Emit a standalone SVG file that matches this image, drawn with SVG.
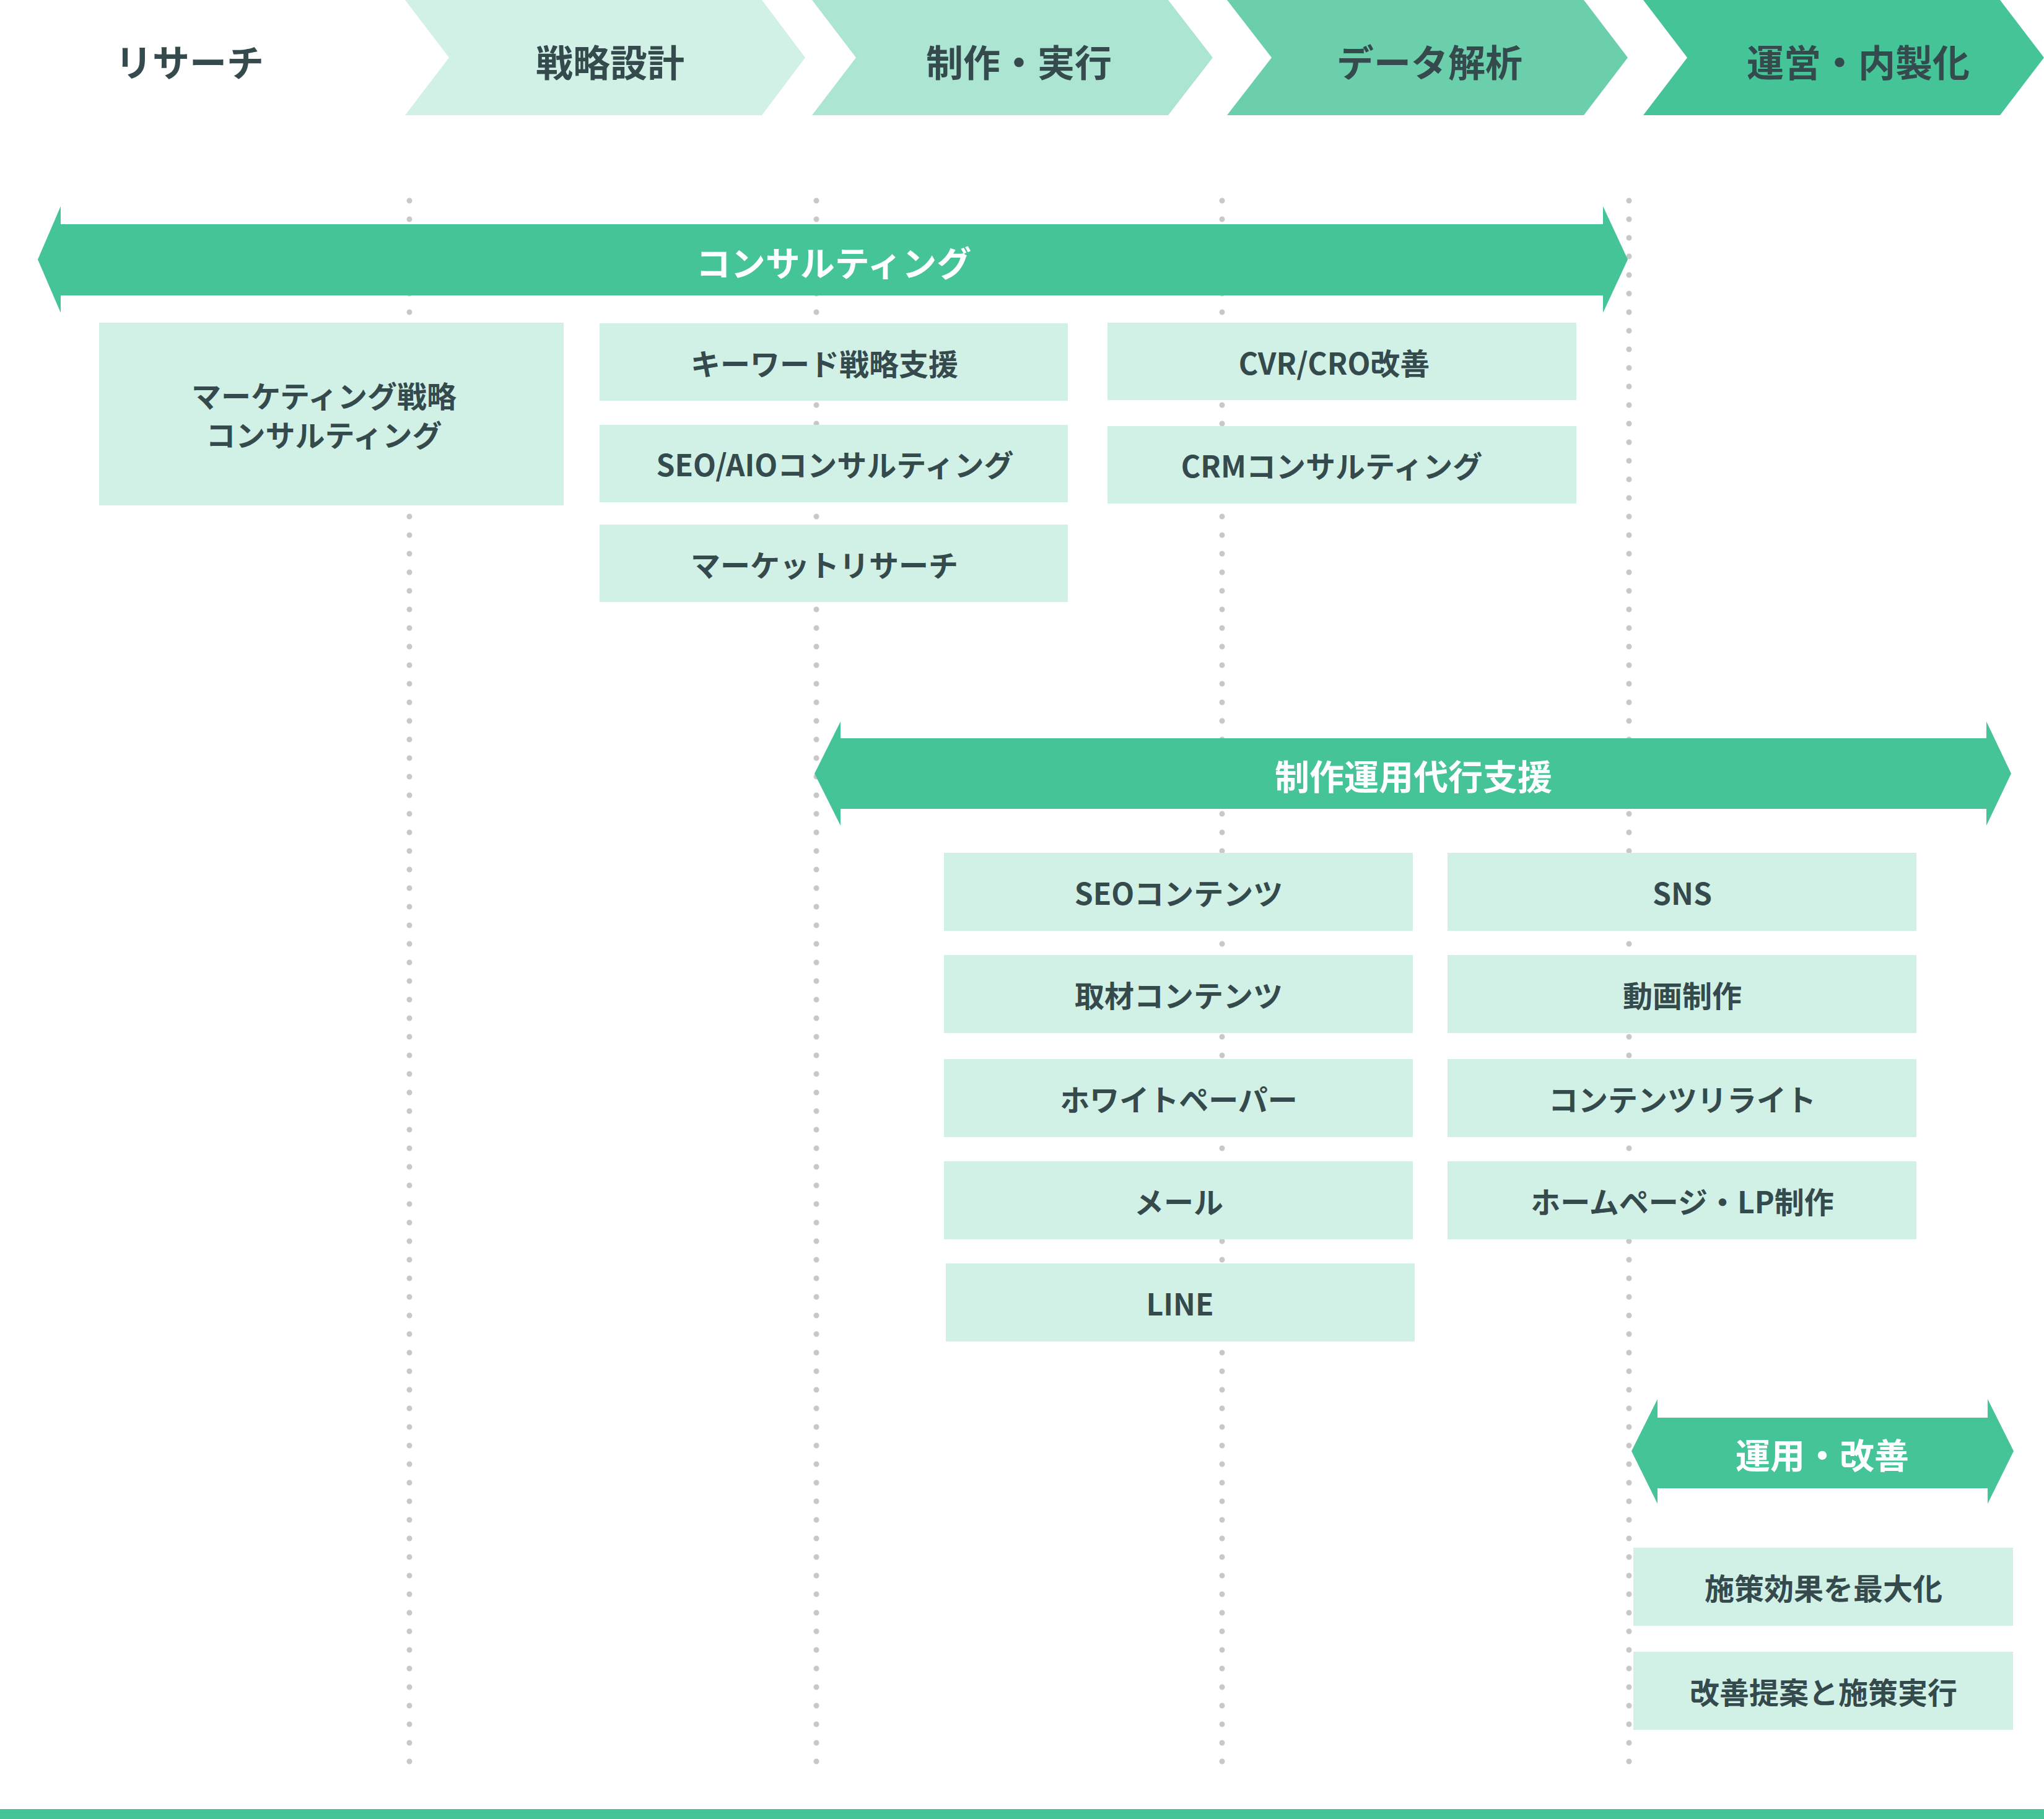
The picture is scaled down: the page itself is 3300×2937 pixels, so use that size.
<svg xmlns="http://www.w3.org/2000/svg" width="3300" height="2937" viewBox="0 0 3300 2937">
<style>
text{font-family:"Noto Sans CJK JP","Noto Sans",sans-serif;font-weight:700;text-anchor:middle;dominant-baseline:central}
.hd{font-size:60px;fill:#344a4c}
.bx{font-size:48px;fill:#344a4c}
.bn{font-size:56px;fill:#ffffff}
.box{fill:#d1f0e6}
.band{fill:#45c497}
.guide{stroke:#c8c8c8;stroke-width:9;stroke-linecap:round;stroke-dasharray:0 30;fill:none}
</style>
<rect width="3300" height="2937" fill="#ffffff"/>
<g id="connectors">
<line class="guide" x1="661" y1="324" x2="661" y2="2846"/>
<line class="guide" x1="1318" y1="324" x2="1318" y2="2846"/>
<line class="guide" x1="1973" y1="324" x2="1973" y2="2846"/>
<line class="guide" x1="2630" y1="324" x2="2630" y2="2846"/>
</g>
<g id="phase-research">
<text class="hd" x="306" y="97">リサーチ</text>
</g>
<g id="phase-strategy">
<polygon points="654,0 1230,0 1300,93 1230,186 654,186 725,93" fill="#d1f0e6"/>
<text class="hd" x="985" y="97">戦略設計</text>
</g>
<g id="phase-production">
<polygon points="1311,0 1886,0 1958,93 1886,186 1311,186 1382,93" fill="#ade5d3"/>
<text class="hd" x="1645" y="97">制作・実行</text>
</g>
<g id="phase-analysis">
<polygon points="1981,0 2557,0 2628,93 2557,186 1981,186 2053,93" fill="#6bcfab"/>
<text class="hd" x="2308" y="97">データ解析</text>
</g>
<g id="phase-operation">
<polygon points="2653,0 3229,0 3300,93 3229,186 2653,186 2724,93" fill="#45c497"/>
<text class="hd" x="3000" y="97">運営・内製化</text>
</g>
<g id="band-consulting">
<polygon class="band" points="61,419 98,333 98,362 2588,362 2588,333 2628,419 2588,505 2588,477 98,477 98,505"/>
<text class="bn" x="1346" y="421">コンサルティング</text>
</g>
<g id="node-marketing">
<rect class="box" x="160" y="521" width="750" height="295"/>
<text class="bx" x="523" y="637">マーケティング戦略</text>
<text class="bx" x="523" y="700">コンサルティング</text>
</g>
<g id="node-keyword">
<rect class="box" x="968" y="522" width="756" height="125"/>
<text class="bx" x="1331" y="585">キーワード戦略支援</text>
</g>
<g id="node-seo-aio">
<rect class="box" x="968" y="686" width="756" height="125"/>
<text class="bx" x="1348" y="748">SEO/AIOコンサルティング</text>
</g>
<g id="node-market-research">
<rect class="box" x="968" y="847" width="756" height="125"/>
<text class="bx" x="1331" y="910">マーケットリサーチ</text>
</g>
<g id="node-cvr">
<rect class="box" x="1788" y="521" width="757" height="125"/>
<text class="bx" x="2154" y="584">CVR/CRO改善</text>
</g>
<g id="node-crm">
<rect class="box" x="1788" y="688" width="757" height="125"/>
<text class="bx" x="2150" y="750">CRMコンサルティング</text>
</g>
<g id="band-production">
<polygon class="band" points="1315,1249 1357,1165 1357,1192 3207,1192 3207,1165 3247,1249 3207,1333 3207,1306 1357,1306 1357,1333"/>
<text class="bn" x="2282" y="1250">制作運用代行支援</text>
</g>
<g id="node-seo-content">
<rect class="box" x="1524" y="1377" width="757" height="126"/>
<text class="bx" x="1903" y="1440">SEOコンテンツ</text>
</g>
<g id="node-sns">
<rect class="box" x="2337" y="1377" width="757" height="126"/>
<text class="bx" x="2716" y="1440">SNS</text>
</g>
<g id="node-interview">
<rect class="box" x="1524" y="1542" width="757" height="126"/>
<text class="bx" x="1903" y="1605">取材コンテンツ</text>
</g>
<g id="node-video">
<rect class="box" x="2337" y="1542" width="757" height="126"/>
<text class="bx" x="2716" y="1605">動画制作</text>
</g>
<g id="node-whitepaper">
<rect class="box" x="1524" y="1710" width="757" height="126"/>
<text class="bx" x="1903" y="1773">ホワイトペーパー</text>
</g>
<g id="node-rewrite">
<rect class="box" x="2337" y="1710" width="757" height="126"/>
<text class="bx" x="2716" y="1773">コンテンツリライト</text>
</g>
<g id="node-mail">
<rect class="box" x="1524" y="1875" width="757" height="126"/>
<text class="bx" x="1903" y="1938">メール</text>
</g>
<g id="node-homepage">
<rect class="box" x="2337" y="1875" width="757" height="126"/>
<text class="bx" x="2716" y="1938">ホームページ・LP制作</text>
</g>
<g id="node-line">
<rect class="box" x="1527" y="2040" width="757" height="126"/>
<text class="bx" x="1905" y="2103">LINE</text>
</g>
<g id="band-operation">
<polygon class="band" points="2634,2343 2676,2259 2676,2289 3209,2289 3209,2259 3251,2343 3209,2428 3209,2403 2676,2403 2676,2428"/>
<text class="bn" x="2942" y="2346">運用・改善</text>
</g>
<g id="node-maximize">
<rect class="box" x="2637" y="2499" width="613" height="126"/>
<text class="bx" x="2944" y="2562">施策効果を最大化</text>
</g>
<g id="node-improve">
<rect class="box" x="2637" y="2667" width="613" height="126"/>
<text class="bx" x="2944" y="2730">改善提案と施策実行</text>
</g>
<rect id="footer-line" x="0" y="2921" width="3300" height="16" fill="#45c497"/>
</svg>
